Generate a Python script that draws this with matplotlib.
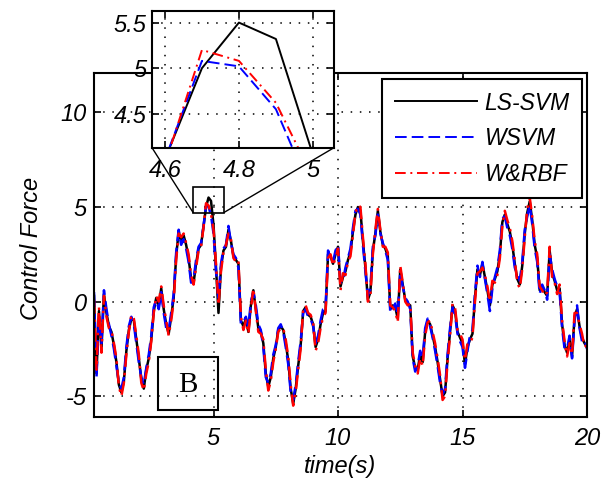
import matplotlib.pyplot as plt
import numpy as np
from matplotlib.patches import Rectangle, ConnectionPatch
from matplotlib.ticker import FormatStrFormatter

plt.rcParams['font.family'] = ['Liberation Sans', 'DejaVu Sans']

# time axis (s), one sample every 0.1 s from 0.2 to 20
t = np.round(np.arange(2, 201) * 0.1, 1)

# control force
ls_svm = [
    0.3, -3.8, -0.5, -2.5, 0.4, -0.6, -1.3, -1.6,
    -2.3, -3.2, -4.4, -4.8, -4.2, -2.6, -1.5, -0.9, -1.0, -2.0,
    -3.0, -4.1, -4.6, -3.6, -3.0, -2.0, -0.5, 0.2, -0.2, 0.7,
    -0.4, -1.2, -1.7, -0.8, 0.2, 2.4, 3.7, 3.2, 3.5, 3.0,
    2.3, 1.2, 1.0, 2.0, 2.8, 3.0, 4.0, 5.0, 5.5, 5.32,
    4.05, 1.8, -0.6, 1.8, 2.7, 2.9, 3.8, 3.2, 2.4, 2.2,
    2.0, -1.0, -1.3, -0.9, -1.6, -0.2, 0.6, -0.4, -1.4, -1.6,
    -2.2, -3.8, -4.5, -4.0, -3.0, -2.4, -1.5, -1.3, -1.5, -2.2,
    -3.1, -4.6, -5.4, -4.6, -3.4, -2.3, -0.5, -0.3, -0.7, -0.8,
    -1.2, -2.4, -2.0, -1.2, -0.6, -0.5, 2.5, 2.4, 2.0, 2.5,
    2.9, 0.8, 1.3, 1.6, 2.2, 2.6, 3.7, 4.6, 5.0, 4.8,
    3.2, 1.8, 0.1, 0.5, 2.7, 3.6, 4.8, 3.7, 3.0, 2.8,
    2.4, -0.4, -0.2, -0.3, -0.9, 1.7, 0.9, 0.1, -0.1, -0.2,
    -2.9, -3.5, -3.6, -2.8, -3.2, -1.6, -1.0, -1.2, -1.8, -2.4,
    -3.2, -4.1, -5.0, -4.8, -3.0, -1.6, -0.2, -0.5, -1.6, -1.9,
    -2.2, -3.3, -2.4, -2.0, -1.7, 0.2, 1.7, 1.4, 2.0, 1.3,
    0.6, -0.2, 0.9, 1.2, 1.6, 2.5, 4.2, 4.6, 4.1, 3.7,
    3.0, 2.0, 1.2, 0.9, 1.9, 3.6, 4.7, 5.3, 4.3, 3.0,
    2.3, 0.6, 0.8, 0.5, 0.3, 2.7, 1.5, 1.1, 0.6, 0.7,
    -1.2, -2.3, -2.7, -2.0, -2.9, -0.8, -0.4, -1.3, -1.9, -2.2,
    -2.4]

wsvm = [
    0.5, -4.0, -0.8, -2.2, 0.6, -0.4, -1.2, -1.8,
    -2.5, -3.4, -4.3, -4.6, -4.0, -2.4, -1.3, -0.8, -1.2, -2.2,
    -3.2, -4.0, -4.4, -3.5, -2.8, -1.8, -0.3, 0.1, -0.4, 0.5,
    -0.6, -1.4, -1.5, -0.6, 0.4, 2.6, 3.8, 3.0, 3.3, 2.8,
    2.1, 1.0, 1.2, 2.2, 2.9, 3.1, 4.0, 5.08, 5.02, 4.55,
    3.6, 1.6, 0.2, 2.0, 2.8, 3.0, 4.0, 3.1, 2.5, 2.3,
    1.8, -1.2, -1.1, -0.8, -1.4, 0.0, 0.5, -0.2, -1.2, -1.5,
    -2.4, -4.0, -4.3, -3.8, -2.8, -2.3, -1.4, -1.2, -1.6, -2.4,
    -3.3, -4.8, -5.2, -4.4, -3.2, -2.1, -0.6, -0.4, -0.8, -0.9,
    -1.3, -2.2, -1.8, -1.0, -0.4, -0.3, 2.7, 2.3, 2.1, 2.7,
    3.0, 1.0, 1.1, 1.8, 2.3, 2.8, 3.9, 4.8, 4.9, 4.6,
    3.0, 1.6, 0.3, 0.7, 2.9, 3.5, 4.6, 3.6, 3.1, 2.7,
    2.2, -0.6, -0.4, -0.1, -0.7, 1.5, 0.8, 0.2, 0.0, -0.4,
    -3.0, -3.7, -3.4, -2.6, -3.0, -1.4, -0.9, -1.3, -1.9, -2.6,
    -3.4, -4.3, -4.9, -4.6, -2.8, -1.4, -0.3, -0.7, -1.7, -2.1,
    -2.4, -3.5, -2.6, -1.8, -1.5, 0.4, 1.9, 1.3, 2.1, 1.2,
    0.4, -0.5, 0.7, 1.3, 1.8, 2.7, 4.4, 4.5, 3.9, 3.5,
    2.8, 1.8, 1.4, 1.1, 2.1, 3.8, 4.5, 5.1, 4.1, 2.8,
    2.1, 0.4, 0.9, 0.6, 0.1, 2.5, 1.7, 1.2, 0.8, 0.5,
    -1.4, -2.5, -2.5, -1.8, -3.0, -1.0, -0.2, -1.4, -2.1, -2.0,
    -2.5]

w_rbf = [
    0.1, -3.6, -0.3, -2.7, 0.3, -0.8, -1.4, -1.5,
    -2.2, -3.0, -4.5, -5.0, -4.3, -2.8, -1.6, -0.7, -0.9, -1.8,
    -2.8, -4.3, -4.7, -3.8, -3.2, -2.1, -0.6, 0.3, 0.0, 0.8,
    -0.2, -1.0, -1.8, -1.0, 0.0, 2.2, 3.6, 3.4, 3.6, 3.1,
    2.5, 1.4, 0.9, 1.8, 2.7, 2.9, 3.95, 5.2, 5.08, 4.62,
    3.8, 2.0, -0.2, 1.6, 2.6, 3.0, 3.6, 3.3, 2.3, 2.1,
    2.2, -0.8, -1.5, -1.0, -1.7, -0.4, 0.7, -0.5, -1.6, -1.7,
    -2.0, -3.6, -4.7, -4.2, -3.2, -2.5, -1.6, -1.4, -1.4, -2.0,
    -2.9, -4.4, -5.5, -4.8, -3.6, -2.5, -0.4, -0.2, -0.6, -0.7,
    -1.1, -2.6, -2.2, -1.4, -0.8, -0.6, 2.3, 2.5, 1.9, 2.3,
    2.8, 0.6, 1.5, 1.4, 2.1, 2.4, 3.5, 4.7, 5.1, 5.0,
    3.4, 2.0, 0.0, 0.3, 2.5, 3.8, 4.9, 3.8, 2.9, 2.9,
    2.6, -0.2, -0.3, -0.5, -1.1, 1.9, 1.0, 0.0, -0.2, -0.1,
    -2.7, -3.4, -3.8, -3.0, -3.4, -1.8, -1.1, -1.0, -1.6, -2.2,
    -3.0, -3.9, -5.2, -5.0, -3.2, -1.8, -0.1, -0.3, -1.5, -1.7,
    -2.0, -3.1, -2.2, -2.2, -1.9, 0.0, 1.5, 1.6, 1.8, 1.4,
    0.8, 0.0, 1.1, 1.0, 1.4, 2.3, 4.0, 4.8, 4.3, 3.9,
    3.2, 2.2, 1.0, 0.7, 1.7, 3.4, 4.9, 5.5, 4.5, 3.2,
    2.5, 0.8, 0.6, 0.3, 0.5, 2.9, 1.3, 1.0, 0.4, 0.9,
    -1.0, -2.1, -2.9, -2.2, -2.8, -0.6, -0.6, -1.2, -1.7, -2.4,
    -2.3]

labels = ['LS-SVM', 'WSVM', 'W&RBF']
main_xticks = [5, 10, 15, 20]
main_yticks = [-5, 0, 5, 10]
zoom_xticks = [4.6, 4.8, 5.0]
zoom_yticks = [4.5, 5.0, 5.5]

FS = 17
grid_style = dict(color='k', linestyle=(0, (1, 5)), linewidth=1.1)


def draw_series(ax, lw):
    ax.plot(t, ls_svm, color='k', lw=lw, label=labels[0])
    ax.plot(t, wsvm, color='#0000ff', lw=lw, dashes=(6, 2.6), label=labels[1])
    ax.plot(t, w_rbf, color='#ff0000', lw=lw, dashes=(5.5, 2.4, 1, 2.4), label=labels[2])


def style_axes(ax, xticks, yticks, pad_x, pad_y):
    ax.set_xticks(xticks)
    ax.set_yticks(yticks)
    ax.xaxis.set_major_formatter(FormatStrFormatter('%g'))
    ax.yaxis.set_major_formatter(FormatStrFormatter('%g'))
    ax.tick_params(direction='in', length=5, width=1.2, top=True, right=True,
                   labelsize=FS)
    ax.tick_params(axis='x', pad=pad_x)
    ax.tick_params(axis='y', pad=pad_y)
    for lab in ax.get_xticklabels() + ax.get_yticklabels():
        lab.set_fontstyle('italic')
    for sp in ax.spines.values():
        sp.set_linewidth(1.5)
    ax.grid(True, **grid_style)


fig = plt.figure(figsize=(6.14, 4.86), dpi=100)

# main axes
ax = fig.add_axes([94 / 614, 1 - 417 / 486, 493 / 614, 344.3 / 486])
draw_series(ax, 1.8)
ax.set_xlim(0.2, 20)
ax.set_ylim(-6.1, 12.1)
style_axes(ax, main_xticks, main_yticks, 7, 5)

leg = ax.legend(loc='upper right', bbox_to_anchor=(0.99, 0.982), fancybox=False,
                edgecolor='k', framealpha=1, handlelength=3.6, handletextpad=0.3,
                labelspacing=0.55, borderpad=0.55, borderaxespad=0,
                prop={'size': 16.5, 'style': 'italic'})
leg.get_frame().set_linewidth(1.5)
for h in leg.get_lines():
    h.set_linewidth(1.4)

fig.text(32 / 614, 1 - 248 / 486, 'Control Force', rotation=90, ha='center',
         va='center', fontsize=FS, fontstyle='italic')
fig.text(340 / 614, 1 - 466 / 486, 'time(s)', ha='center', va='center',
         fontsize=FS, fontstyle='italic')

# zoom rectangle on the main plot
zoom_box = (4.18, 4.71, 1.24, 1.37)
ax.add_patch(Rectangle(zoom_box[:2], zoom_box[2], zoom_box[3], fill=False,
                       edgecolor='k', lw=1.2, zorder=5))

# "B" panel label
ax.add_patch(Rectangle((0.130, 0.0203), 0.122, 0.154, transform=ax.transAxes,
                       fill=False, edgecolor='k', lw=1.5, zorder=6))
ax.text(0.191, 0.094, 'B', transform=ax.transAxes, ha='center', va='center',
        fontsize=21, family='Liberation Serif', zorder=6)

# inset
axin = fig.add_axes([152 / 614, 1 - 147.7 / 486, 182 / 614, 136.7 / 486])
draw_series(axin, 1.4)
axin.set_xlim(4.565, 5.057)
axin.set_ylim(4.128, 5.627)
style_axes(axin, zoom_xticks, zoom_yticks, 8, 4)

for xa, xb in [(0, zoom_box[0]), (1, zoom_box[0] + zoom_box[2])]:
    con = ConnectionPatch(xyA=(xa, 0), coordsA=axin.transAxes,
                          xyB=(xb, zoom_box[1]), coordsB=ax.transData,
                          color='k', lw=1.0)
    fig.add_artist(con)

plt.savefig('out.png', dpi=100)
